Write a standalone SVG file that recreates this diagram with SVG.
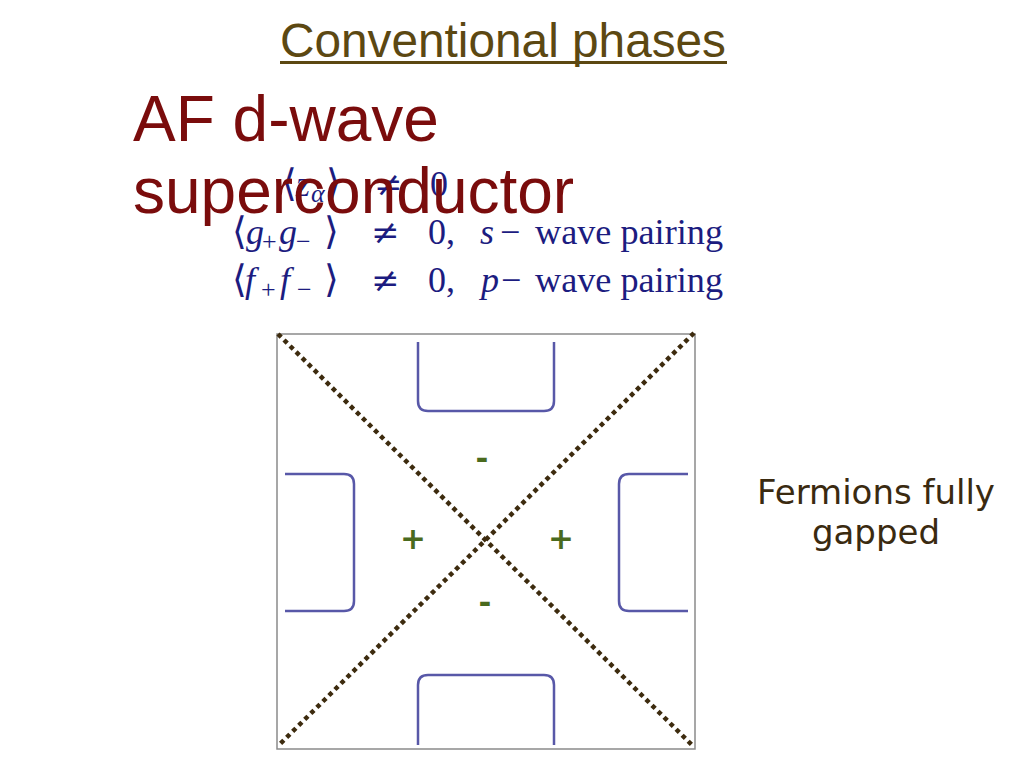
<svg xmlns="http://www.w3.org/2000/svg" width="1024" height="768" viewBox="0 0 1024 768">
<style>
.title{font-family:"Liberation Sans",Arial,sans-serif;font-size:48px;fill:#5c4812}
.head{font-family:"Liberation Sans",Arial,sans-serif;font-size:64px;fill:#7a0c0c}
.eq{font-family:"Liberation Serif","DejaVu Serif",serif;font-size:36px;fill:#1c1c80}
.it{font-style:italic}
.sub{font-size:26px}
.br{font-family:"DejaVu Serif",serif;font-size:38px;font-weight:300}
.ne{font-family:"DejaVu Serif",serif;font-size:34px}
.side{font-family:"DejaVu Sans",Verdana,sans-serif;font-size:34px;fill:#3a2a10}
.sign{font-family:"DejaVu Sans",sans-serif;font-size:31px;font-weight:bold;fill:#4a6a1e}
.fs{fill:none;stroke:#5858a8;stroke-width:2.5}
.diag{stroke:#3d2b0e;stroke-width:4.5;stroke-dasharray:4.5 4}
</style>
<rect width="1024" height="768" fill="#fff"/>
<g id="title">
<text class="title" x="280" y="57" textLength="446" lengthAdjust="spacingAndGlyphs">Conventional phases</text>
<rect x="280" y="61" width="447" height="3" fill="#5c4812"/>
</g>
<g id="equations">
<text class="eq" y="196"><tspan class="br" x="282">⟨</tspan><tspan class="it" x="296">z</tspan><tspan class="it sub" x="311" dy="6">α</tspan><tspan class="br" x="326" dy="-6">⟩</tspan><tspan class="ne" x="374">≠</tspan><tspan x="430">0</tspan></text>
<text class="eq" y="244"><tspan class="br" x="232">⟨</tspan><tspan class="it" x="246">g</tspan><tspan class="sub" x="262" dy="6">+</tspan><tspan class="it" x="279" dy="-6">g</tspan><tspan class="sub" x="296" dy="6">−</tspan><tspan class="br" x="324" dy="-6">⟩</tspan><tspan class="ne" x="371">≠</tspan><tspan x="428">0</tspan><tspan x="446">,</tspan><tspan class="it" x="480">s</tspan><tspan x="500">−</tspan></text>
<text class="eq" x="535" y="244" textLength="188" lengthAdjust="spacingAndGlyphs">wave pairing</text>
<text class="eq" y="292"><tspan class="br" x="232">⟨</tspan><tspan class="it" x="245">f</tspan><tspan class="sub" x="261" dy="6">+</tspan><tspan class="it" x="280" dy="-6">f</tspan><tspan class="sub" x="297" dy="6">−</tspan><tspan class="br" x="324" dy="-6">⟩</tspan><tspan class="ne" x="371">≠</tspan><tspan x="428">0</tspan><tspan x="446">,</tspan><tspan class="it" x="481">p</tspan><tspan x="501">−</tspan></text>
<text class="eq" x="535" y="292" textLength="188" lengthAdjust="spacingAndGlyphs">wave pairing</text>
</g>
<g id="heading">
<text class="head" x="133" y="141">AF d-wave</text>
<text class="head" x="133" y="213">superconductor</text>
</g>
<g id="brillouin-zone">
<rect x="277" y="334" width="418" height="415" fill="none" stroke="#8a8a8a" stroke-width="1.5"/>
<path class="fs" d="M418,342 V401 Q418,411 428,411 H544 Q554,411 554,401 V342"/>
<path class="fs" d="M285,474 H344 Q354,474 354,484 V601 Q354,611 344,611 H285"/>
<path class="fs" d="M688,474 H629 Q619,474 619,484 V601 Q619,611 629,611 H688"/>
<path class="fs" d="M418,745 V685 Q418,675 428,675 H544 Q554,675 554,685 V745"/>
</g>
<g id="connectors">
<line class="diag" x1="278" y1="334" x2="694" y2="747"/>
<line class="diag" x1="694" y1="333" x2="278" y2="746"/>
</g>
<g id="signs">
<text class="sign" x="482" y="469" text-anchor="middle">-</text>
<text class="sign" x="413" y="549" text-anchor="middle">+</text>
<text class="sign" x="561" y="549" text-anchor="middle">+</text>
<text class="sign" x="485" y="613" text-anchor="middle">-</text>
</g>
<g id="note">
<text class="side" x="876" y="504" text-anchor="middle">Fermions fully</text>
<text class="side" x="876" y="544" text-anchor="middle">gapped</text>
</g>
</svg>
